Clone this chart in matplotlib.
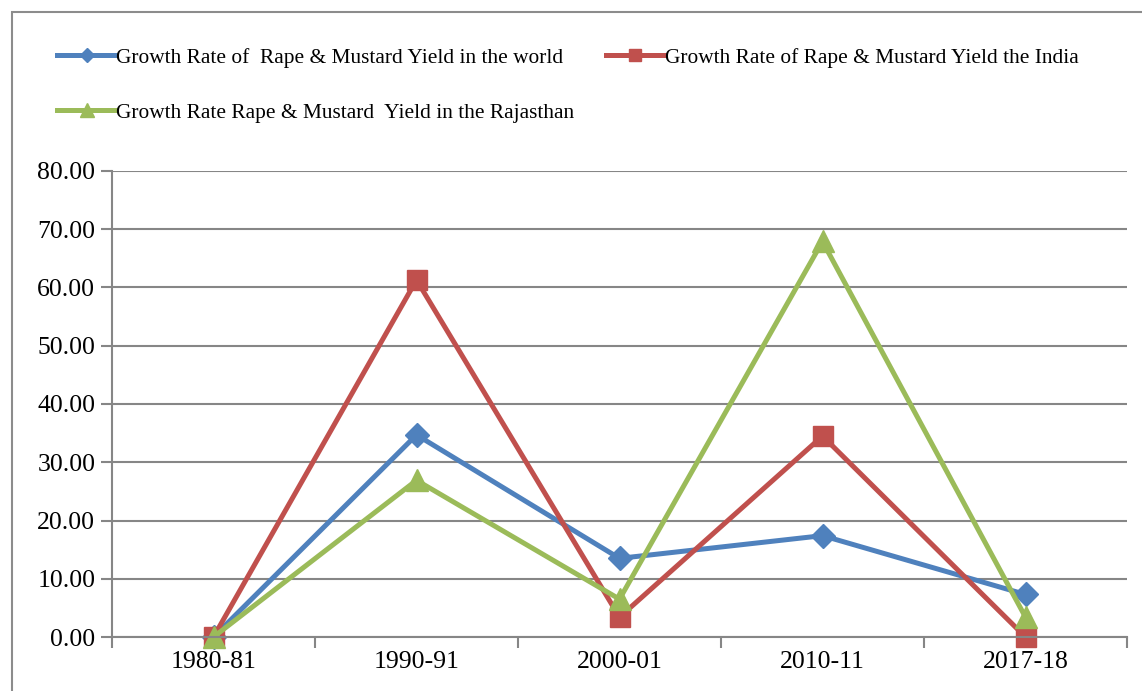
import matplotlib.pyplot as plt
from matplotlib.patches import Rectangle

years = ['1980-81', '1990-91', '2000-01', '2010-11', '2017-18']
world = [0.0, 34.7, 13.5, 17.4, 7.3]
india = [0.0, 61.3, 3.4, 34.5, 0.0]
rajasthan = [0.0, 26.9, 6.5, 67.9, 3.4]

labels = ['Growth Rate of  Rape & Mustard Yield in the world',
          'Growth Rate of Rape & Mustard Yield the India',
          'Growth Rate Rape & Mustard  Yield in the Rajasthan']

plt.rcParams['font.family'] = ['Liberation Serif', 'DejaVu Serif']

fig = plt.figure(figsize=(11.42, 6.91), dpi=100)
ax = fig.add_axes([112 / 1142, 1 - 637 / 691, (1127 - 112) / 1142, (637 - 171) / 691])

# outer chart border (cut off at the right and bottom in the original)
fig.patches.append(Rectangle((12 / 1142, -0.1), 1.2, 1 - 12 / 691 + 0.1,
                             transform=fig.transFigure, fill=False,
                             edgecolor='#8c8c8c', linewidth=1.5))

x = range(len(years))
ax.plot(x, world, color='#4F81BD', lw=3.6, marker='D', ms=12, label=labels[0], clip_on=False)
ax.plot(x, india, color='#C0504D', lw=3.6, marker='s', ms=14, label=labels[1], clip_on=False)
ax.plot(x, rajasthan, color='#9BBB59', lw=3.6, marker='^', ms=16, label=labels[2], clip_on=False)

ax.set_xlim(-0.5, 4.5)
ax.set_ylim(0, 80)
ax.set_yticks(range(0, 81, 10))
ax.set_yticklabels([f'{v:.2f}' for v in range(0, 81, 10)])
ax.set_xticks(list(x))
ax.set_xticklabels(years)
ax.set_xticks([i - 0.5 for i in range(6)], minor=True)
ax.tick_params(axis='x', which='major', length=0, pad=10, labelsize=18.5)
ax.tick_params(axis='x', which='minor', length=8, color='#868686', width=1.5)
ax.tick_params(axis='y', length=8, color='#868686', width=1.5, labelsize=18.5, pad=4)
ax.grid(axis='y', color='#868686', lw=1.5)
ax.set_axisbelow(True)
for s in ['top', 'right']:
    ax.spines[s].set_visible(False)
for s in ['left', 'bottom']:
    ax.spines[s].set_color('#868686')
    ax.spines[s].set_linewidth(1.5)

h, l = ax.get_legend_handles_labels()
fig.legend(h[:2], l[:2], loc='center left', bbox_to_anchor=(38 / 1142, 1 - 58 / 691),
           ncol=2, frameon=False, fontsize=15.4, markerscale=0.6,
           handlelength=2.75, handletextpad=0.0, columnspacing=2.0)
fig.legend(h[2:], l[2:], loc='center left', bbox_to_anchor=(38 / 1142, 1 - 113 / 691),
           frameon=False, fontsize=15.4, markerscale=0.6,
           handlelength=2.75, handletextpad=0.0)

fig.savefig('out.png', dpi=100)
